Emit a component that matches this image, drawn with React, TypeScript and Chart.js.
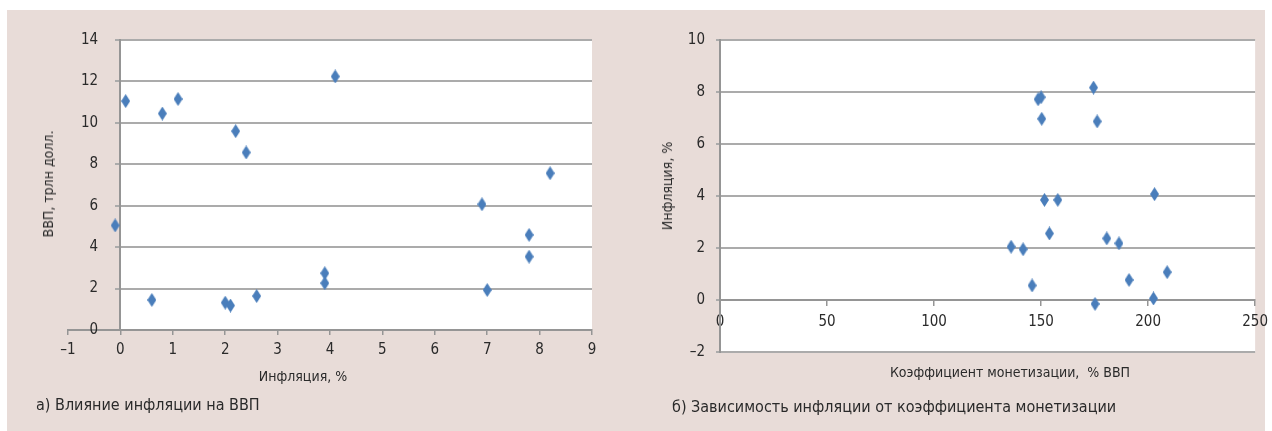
import React, { useEffect, useRef } from 'react';
import { Chart, registerables } from 'chart.js';

Chart.register(...registerables);

// ---- Data: chart (a) ----
const inflationA = [-0.1, 0.1, 0.6, 0.8, 1.1, 2.0, 2.1, 2.2, 2.4, 2.6, 3.9, 3.9, 4.1, 6.9, 7.0, 7.8, 7.8, 8.2];
const gdpA = [5.05, 11.05, 1.45, 10.45, 11.15, 1.32, 1.18, 9.6, 8.57, 1.64, 2.74, 2.26, 12.24, 6.07, 1.93, 4.59, 3.54, 7.57];

// ---- Data: chart (б) ----
const monetizationB = [136, 141.6, 145.8, 148.6, 150, 150.3, 151.6, 153.9, 157.8, 174.5, 175.2, 176.2, 180.7, 186.4, 191.1, 202.5, 203, 208.9];
const inflationB = [2.05, 1.95, 0.56, 7.72, 7.8, 6.97, 3.85, 2.56, 3.85, 8.17, -0.15, 6.87, 2.37, 2.18, 0.77, 0.06, 4.07, 1.07];

// ---- Axis bounds ----
const axisA_x = { min: -1, max: 9, step: 1 };
const axisA_y = { min: 0, max: 14, step: 2 };
const axisB_x = { min: 0, max: 250, step: 50 };
const axisB_y = { min: -2, max: 10, step: 2 };

// ---- Texts ----
const titleA_x = 'Инфляция, %';
const titleA_y = 'ВВП, трлн долл.';
const captionA = 'а) Влияние инфляции на ВВП';
const titleB_x = 'Коэффициент монетизации,  % ВВП';
const titleB_y = 'Инфляция, %';
const captionB = 'б) Зависимость инфляции от коэффициента монетизации';

const FONT = '"Liberation Sans Narrow", "Arial Narrow", "DejaVu Sans Condensed", "Roboto", sans-serif';
const MARKER = '#4a7ebb';
const GRID = '#ababab';
const AXIS = '#959595';
const TEXT = '#2a2a2a';

function makeDiamond(w: number, h: number, color: string) {
  const c = document.createElement('canvas');
  c.width = w;
  c.height = h;
  const g = c.getContext('2d')!;
  g.fillStyle = color;
  g.beginPath();
  g.moveTo(w / 2, 0);
  g.lineTo(w, h / 2);
  g.lineTo(w / 2, h);
  g.lineTo(0, h / 2);
  g.closePath();
  g.fill();
  return c;
}

const dashMinus = (v: any) => String(v).replace('-', '–');

const bgA = {
  id: 'bgA',
  beforeDraw(chart: any) {
    const { ctx, chartArea, scales } = chart;
    const x0 = Math.round(scales.x.getPixelForValue(0));
    ctx.save();
    ctx.fillStyle = '#ffffff';
    ctx.fillRect(x0, chartArea.top, chartArea.right - x0, chartArea.bottom - chartArea.top);
    ctx.strokeStyle = GRID;
    ctx.lineWidth = 2;
    scales.y.ticks.forEach((t: any) => {
      if (t.value === axisA_y.min) return;
      const py = Math.round(scales.y.getPixelForValue(t.value));
      ctx.beginPath();
      ctx.moveTo(x0, py);
      ctx.lineTo(chartArea.right, py);
      ctx.stroke();
    });
    ctx.restore();
  },
};

const bgB = {
  id: 'bgB',
  beforeDraw(chart: any) {
    const { ctx, chartArea } = chart;
    ctx.save();
    ctx.fillStyle = '#ffffff';
    ctx.fillRect(chartArea.left, chartArea.top, chartArea.right - chartArea.left, chartArea.bottom - chartArea.top);
    ctx.restore();
  },
};

const tickFont = { family: FONT, size: 15 };

export default function App() {
  const refA = useRef<HTMLCanvasElement>(null);
  const refB = useRef<HTMLCanvasElement>(null);

  useEffect(() => {
    const diamond = makeDiamond(9, 14, MARKER);

    const chartA = new Chart(refA.current!, {
      type: 'scatter',
      data: {
        datasets: [
          {
            data: inflationA.map((x, i) => ({ x, y: gdpA[i] })),
            pointStyle: diamond as any,
            pointRadius: 6,
            clip: false as any,
          },
        ],
      },
      options: {
        responsive: false,
        animation: false,
        layout: { padding: { left: 61, right: 44, top: 30, bottom: 61 } },
        plugins: { legend: { display: false }, tooltip: { enabled: false } },
        scales: {
          x: {
            type: 'linear',
            position: 'bottom',
            min: axisA_x.min,
            max: axisA_x.max,
            afterFit: (s: any) => { s.height = 40; },
            ticks: { stepSize: axisA_x.step, font: tickFont, color: TEXT, padding: 6, maxRotation: 0, callback: dashMinus },
            grid: { drawOnChartArea: false, drawTicks: true, tickLength: 5, color: AXIS, lineWidth: 1.5 },
            border: { display: true, color: AXIS, width: 2 },
          },
          y: {
            type: 'linear',
            position: { x: 0 } as any,
            min: axisA_y.min,
            max: axisA_y.max,
            ticks: { stepSize: axisA_y.step, display: false },
            grid: { drawOnChartArea: false, drawTicks: true, tickLength: 4, color: GRID, lineWidth: 2 },
            border: { display: true, color: AXIS, width: 2 },
          },
          yLabels: {
            type: 'linear',
            axis: 'y',
            position: 'left',
            min: axisA_y.min,
            max: axisA_y.max,
            afterFit: (s: any) => { s.width = 0; },
            ticks: { stepSize: axisA_y.step, font: tickFont, color: TEXT, mirror: true, crossAlign: 'far', padding: 13, callback: dashMinus },
            grid: { display: false, drawTicks: false },
            border: { display: false },
          },
        },
      },
      plugins: [bgA],
    });

    const chartB = new Chart(refB.current!, {
      type: 'scatter',
      data: {
        datasets: [
          {
            data: monetizationB.map((x, i) => ({ x, y: inflationB[i] })),
            pointStyle: diamond as any,
            pointRadius: 6,
            clip: false as any,
          },
        ],
      },
      options: {
        responsive: false,
        animation: false,
        layout: { padding: { left: 0, right: 0, top: 30, bottom: 79 } },
        plugins: { legend: { display: false }, tooltip: { enabled: false } },
        scales: {
          x: {
            type: 'linear',
            position: { y: 0 } as any,
            min: axisB_x.min,
            max: axisB_x.max,
            ticks: { stepSize: axisB_x.step, font: tickFont, color: TEXT, padding: 8, maxRotation: 0, callback: dashMinus },
            grid: { drawOnChartArea: false, drawTicks: true, tickLength: 5, color: AXIS, lineWidth: 1.5 },
            border: { display: true, color: AXIS, width: 2 },
          },
          y: {
            type: 'linear',
            position: 'left',
            min: axisB_y.min,
            max: axisB_y.max,
            afterFit: (s: any) => { s.width = 84; },
            ticks: { stepSize: axisB_y.step, font: tickFont, color: TEXT, padding: 11, callback: dashMinus },
            grid: { drawOnChartArea: true, drawTicks: true, tickLength: 4, color: GRID, lineWidth: 2 },
            border: { display: true, color: AXIS, width: 2 },
          },
        },
      },
      plugins: [bgB],
    });

    return () => {
      chartA.destroy();
      chartB.destroy();
    };
  }, []);

  const txt: React.CSSProperties = {
    position: 'absolute',
    whiteSpace: 'pre',
    fontFamily: FONT,
    color: TEXT,
    lineHeight: 1,
  };

  return (
    <div style={{ position: 'absolute', left: 0, top: 0, width: 1272, height: 431, background: '#ffffff', overflow: 'hidden' }}>
      <div style={{ position: 'absolute', left: 7, top: 10, width: 1258, height: 421, background: '#e8dcd8' }} />
      <canvas ref={refA} width={629} height={421} style={{ position: 'absolute', left: 7, top: 10, width: 629, height: 421 }} />
      <canvas ref={refB} width={640} height={421} style={{ position: 'absolute', left: 636, top: 10, width: 640, height: 421 }} />

      <div style={{ ...txt, left: 48, top: 184, fontSize: 14, transform: 'translate(-50%,-50%) rotate(-90deg)' }}>{titleA_y}</div>
      <div style={{ ...txt, left: 303, top: 376, fontSize: 14, transform: 'translate(-50%,-50%)' }}>{titleA_x}</div>
      <div style={{ ...txt, left: 36, top: 405, fontSize: 16, transform: 'translate(0,-50%)' }}>{captionA}</div>

      <div style={{ ...txt, left: 667, top: 186, fontSize: 14, transform: 'translate(-50%,-50%) rotate(-90deg)' }}>{titleB_y}</div>
      <div style={{ ...txt, left: 1010, top: 372, fontSize: 14, transform: 'translate(-50%,-50%)' }}>{titleB_x}</div>
      <div style={{ ...txt, left: 672, top: 407, fontSize: 16, transform: 'translate(0,-50%)' }}>{captionB}</div>
    </div>
  );
}
